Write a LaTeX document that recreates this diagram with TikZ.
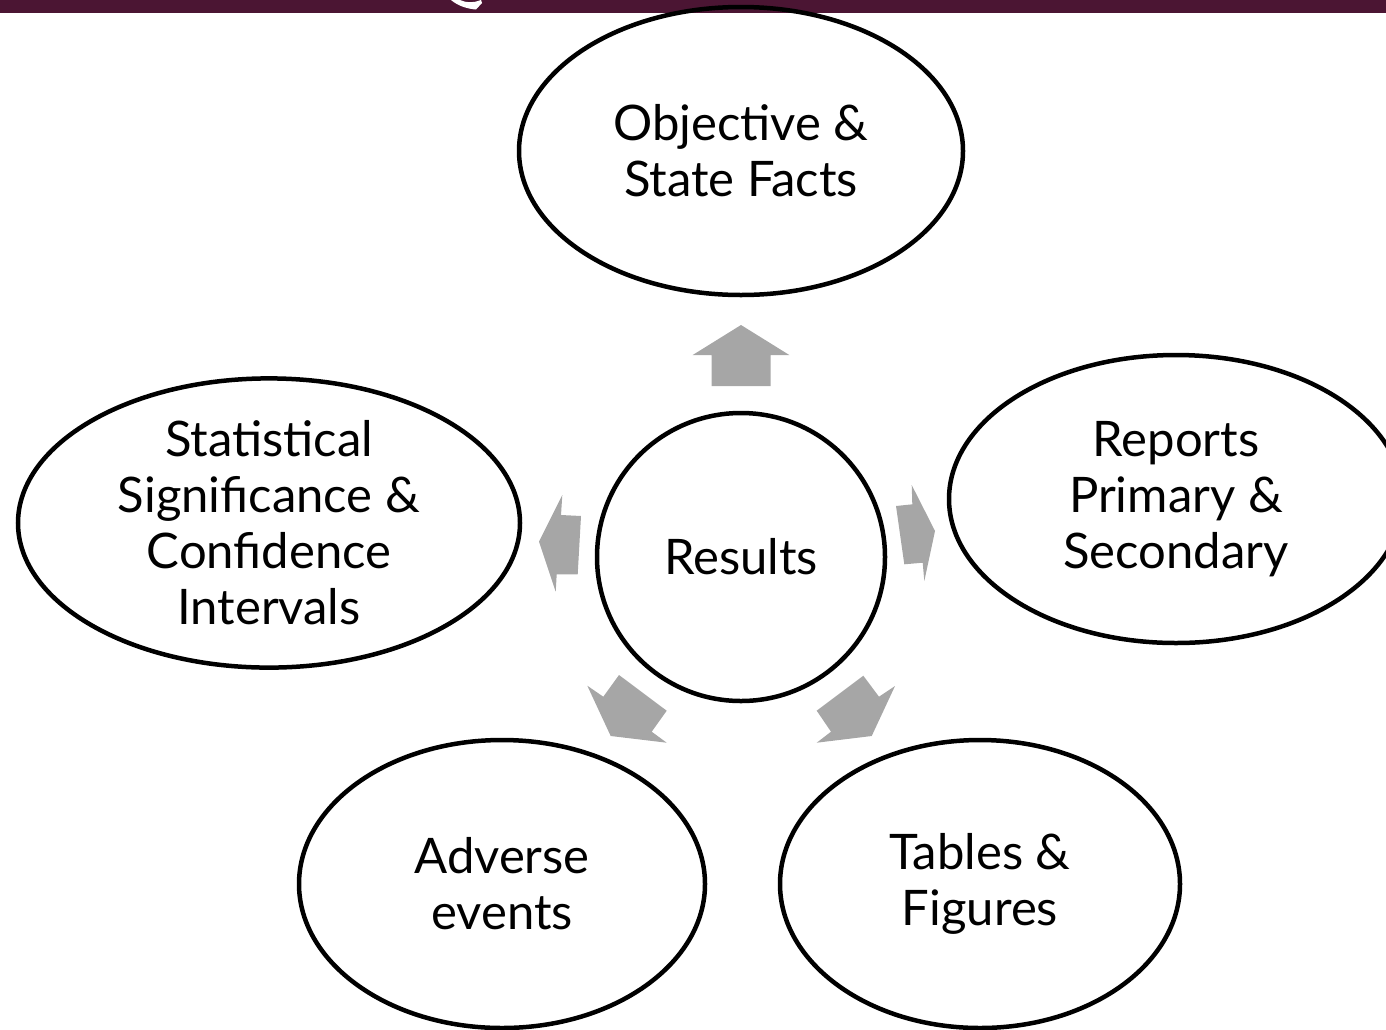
\documentclass[tikz,border=0pt]{standalone}
\usepackage{fontspec}
\setmainfont{Lato}
\usetikzlibrary{shapes.geometric}
\definecolor{barmaroon}{RGB}{75,21,51}
\definecolor{arrowgray}{RGB}{166,166,166}
\tikzset{
  ell/.style={ellipse, draw=black, line width=4.5pt, inner sep=0pt, align=center,
    font=\fontsize{49}{56}\selectfont},
  blockarrow/.style={fill=arrowgray, draw=none}
}
\begin{document}
\begin{tikzpicture}[x=1pt,y=-1pt]
\useasboundingbox (0,0) rectangle (1386,1029);
\clip (0,0) rectangle (1386,1029);
% top band
\fill[barmaroon] (0,0) rectangle (1386,12.5);
\fill[white] (451,0) .. controls (458,6) and (468,9) .. (476,9.5) -- (482,3) -- (481,0)
  .. controls (474,3) and (466,3) .. (460,0) -- cycle;
% nodes
\node[ell, minimum width=444pt, minimum height=288pt] (obj) at (741,151) {Objective \&\\State Facts};
\node[ell, circle, minimum size=288pt] (res) at (741,557) {Results};
\node[ell, minimum width=454pt, minimum height=288pt] (rep) at (1176,499) {Reports\\Primary \&\\Secondary};
\node[ell, minimum width=502pt, minimum height=288pt] (stat) at (269,523) {Statistical\\Significance \&\\Confidence\\Intervals};
\node[ell, minimum width=406pt, minimum height=288pt] (adv) at (502,884) {Adverse\\events};
\node[ell, minimum width=400pt, minimum height=288pt] (tab) at (980,884) {Tables \&\\Figures};
% block arrows
\fill[blockarrow] (741,325) -- (789.3,355) -- (770.7,355) -- (770.7,386) -- (711.7,386) -- (711.7,355) -- (692.7,355) -- cycle;
\fill[blockarrow] (539,541.7) -- (562.3,495) -- (561,515) -- (581,516) -- (577.7,574.3) -- (556.7,574.3) -- (555.7,591.7) -- cycle;
\fill[blockarrow] (935,531) -- (924.3,581) -- (922.7,562.7) -- (904.3,564.3) -- (896,506) -- (912.3,504.3) -- (911.7,485) -- cycle;
\fill[blockarrow] (610.7,736) -- (587.3,685.7) -- (603.3,696.7) -- (619,675) -- (666.7,710.7) -- (651.7,731.7) -- (666.7,742.7) -- cycle;
\fill[blockarrow] (871.7,736) -- (895,686) -- (879,696.7) -- (863.3,675.7) -- (816.7,710.7) -- (831,731.7) -- (816.7,742.7) -- cycle;
\end{tikzpicture}
\end{document}
